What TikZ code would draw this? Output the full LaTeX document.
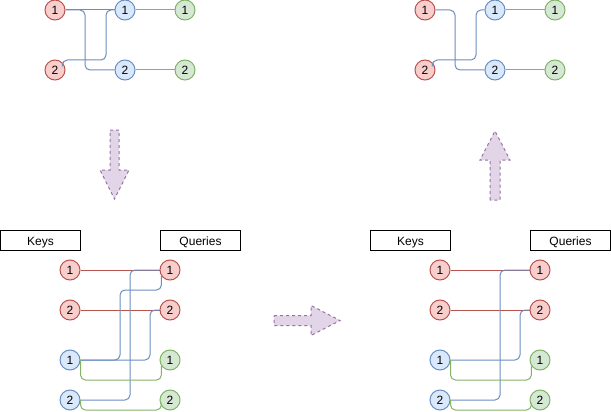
\documentclass[tikz,border=0pt]{standalone}
\usepackage{fontspec}
\setmainfont{Liberation Sans}
\definecolor{redF}{HTML}{F8CECC}
\definecolor{redD}{HTML}{B85450}
\definecolor{blueF}{HTML}{DAE8FC}
\definecolor{blueD}{HTML}{6C8EBF}
\definecolor{greenF}{HTML}{D5E8D4}
\definecolor{greenD}{HTML}{82B366}
\definecolor{purF}{HTML}{E1D5E7}
\definecolor{purD}{HTML}{9673A6}
\begin{document}
\begin{tikzpicture}[x=1pt,y=-1pt,font=\fontsize{12}{14}\selectfont,
  circ/.style={circle,minimum size=20pt,inner sep=0pt,line width=1pt},
  rc/.style={circ,fill=redF,draw=redD},
  bc/.style={circ,fill=blueF,draw=blueD},
  gc/.style={circ,fill=greenF,draw=greenD},
  lbl/.style={draw=black,line width=1pt,minimum width=80pt,minimum height=20pt,inner sep=0pt,text height=11.5pt,text depth=0pt},
  conn/.style={line width=1pt,rounded corners=5pt},
  bl/.style={conn,draw=blueD},
  rl/.style={conn,draw=redD},
  gl/.style={conn,draw=greenD},
  bigarrow/.style={fill=purF,draw=purD,line width=1pt,dash pattern=on 3pt off 3pt,line join=miter}]
\useasboundingbox (0,0) rectangle (611,412);

% ---------- top left ----------
\node[rc] (tr1) at (55,10) {1};
\node[rc] (tr2) at (55,70) {2};
\node[bc] (tb1) at (125,10) {1};
\node[bc] (tb2) at (125,70) {2};
\node[gc] (tg1) at (185,10) {1};
\node[gc] (tg2) at (185,70) {2};
\draw[bl] (tr1.east) -- (tb1.west);
\draw[bl] (tr1.east) -| (85,70) -- (tb2.west);
\draw[bl] (tr2.45) |- (106,60) |- (tb1.west);
\draw[gl] (tb1.east) -- (tg1.west);
\draw[gl] (tb2.east) -- (tg2.west);

% ---------- top right ----------
\node[rc] (ur1) at (425,10) {1};
\node[rc] (ur2) at (425,70) {2};
\node[bc] (ub1) at (495,10) {1};
\node[bc] (ub2) at (495,70) {2};
\node[gc] (ug1) at (555,10) {1};
\node[gc] (ug2) at (555,70) {2};
\draw[bl] (ur1.east) -| (455,70) -- (ub2.west);
\draw[bl] (ur2.45) |- (476,60) |- (ub1.west);
\draw[gl] (ub1.east) -- (ug1.west);
\draw[gl] (ub2.east) -- (ug2.west);

% ---------- bottom left ----------
\node[lbl] (keysA) at (40.5,240) {Keys};
\node[lbl] (queA) at (200.5,240) {Queries};
\node[rc] (akr1) at (70,270) {1};
\node[rc] (akr2) at (70,310) {2};
\node[bc] (akb1) at (70,360) {1};
\node[bc] (akb2) at (70,400) {2};
\node[rc] (aqr1) at (170,270) {1};
\node[rc] (aqr2) at (170,310) {2};
\node[gc] (aqg1) at (170,360) {1};
\node[gc] (aqg2) at (170,400) {2};
\draw[rl] (akr1.east) -- (aqr1.west);
\draw[rl] (akr2.east) -- (aqr2.west);
\draw[bl] (akb1.east) -| (120,290) -| (aqr1.215);
\draw[bl] (akb1.east) -| (150,310) -- (aqr2.west);
\draw[bl] (akb2.east) -| (130,270) -- (aqr1.west);
\draw[gl] (akb1.east) |- (120,380) -| (aqg1.215);
\draw[gl] (akb2.east) |- (120,410) -| (aqg2.215);

% ---------- bottom right ----------
\node[lbl] (keysB) at (410.5,240) {Keys};
\node[lbl] (queB) at (570.5,240) {Queries};
\node[rc] (bkr1) at (440,270) {1};
\node[rc] (bkr2) at (440,310) {2};
\node[bc] (bkb1) at (440,360) {1};
\node[bc] (bkb2) at (440,400) {2};
\node[rc] (bqr1) at (540,270) {1};
\node[rc] (bqr2) at (540,310) {2};
\node[gc] (bqg1) at (540,360) {1};
\node[gc] (bqg2) at (540,400) {2};
\draw[rl] (bkr1.east) -- (bqr1.west);
\draw[rl] (bkr2.east) -- (bqr2.west);
\draw[bl] (bkb2.east) -| (500,270) -- (bqr1.west);
\draw[bl] (bkb1.east) -| (520,310) -- (bqr2.west);
\draw[gl] (bkb1.east) |- (490,380) -| (bqg1.215);
\draw[gl] (bkb2.east) |- (490,410) -| (bqg2.215);

% ---------- big arrows ----------
\draw[bigarrow] (110,130) -- (119,130) -- (119,170) -- (129,170) -- (114.5,199) -- (100,170) -- (110,170) -- cycle;
\draw[bigarrow] (274,315.5) -- (311,315.5) -- (311,305.5) -- (340,320.5) -- (311,335.5) -- (311,325.5) -- (274,325.5) -- cycle;
\draw[bigarrow] (490,200) -- (490,160) -- (480,160) -- (495,131) -- (510,160) -- (500,160) -- (500,200) -- cycle;
\end{tikzpicture}
\end{document}
